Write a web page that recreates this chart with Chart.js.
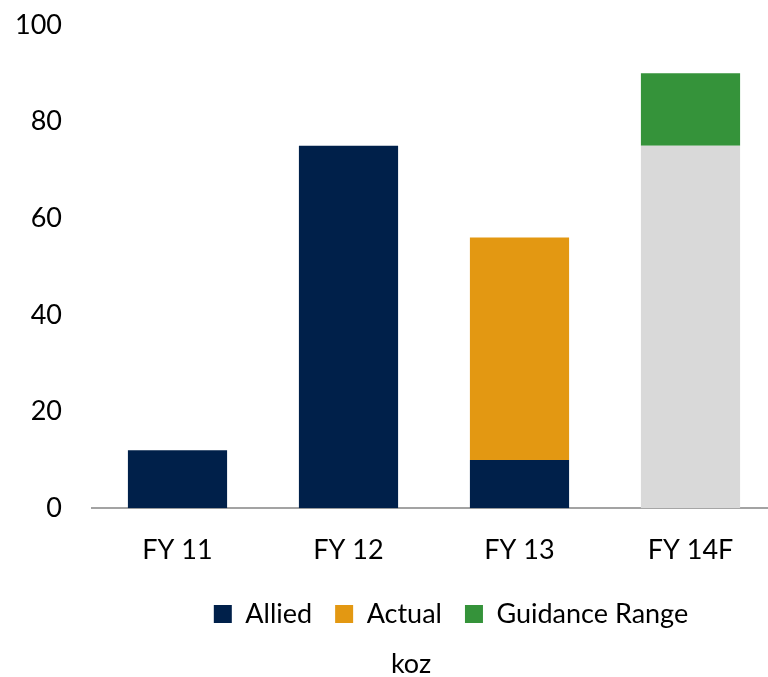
<!DOCTYPE html>
<html>
<head>
<meta charset="utf-8">
<script src="https://cdn.jsdelivr.net/npm/chart.js@4/dist/chart.umd.min.js"></script>
<style>
  html, body { margin: 0; padding: 0; background: #fff; }
  #wrap { width: 768px; height: 677px; }
</style>
</head>
<body>
<div id="wrap"><canvas id="chart" width="768" height="677"></canvas></div>
<script>
// data (koz)
const categories = ["FY 11", "FY 12", "FY 13", "FY 14F"];
const allied = [12, 75, 10, null];
const actual = [null, null, 46, null];
const forecastBase = [null, null, null, 75];
const guidanceRange = [null, null, null, 15];
const yTicks = [0, 20, 40, 60, 80, 100];

const font = { family: "Lato", size: 27 };

// the plot runs a little past the right edge, and legend / unit title
// sit right of centre in the original
const tweakLayout = {
  id: "tweakLayout",
  afterLayout(chart) {
    const x = chart.scales.x;
    x.right += 8;
    x.width += 8;
    x.configure();
    chart.chartArea.right += 8;
    chart.chartArea.width += 8;
    if (chart.legend) {
      chart.legend.left += 60;
      chart.legend.right += 60;
      chart.legend.top -= 15;
      chart.legend.bottom -= 15;
    }
    if (chart.titleBlock) {
      chart.titleBlock.left += 20;
      chart.titleBlock.right += 20;
      chart.titleBlock.top += 11;
      chart.titleBlock.bottom += 11;
    }
  },
};

new Chart(document.getElementById("chart"), {
  type: "bar",
  data: {
    labels: categories,
    datasets: [
      { label: "Allied", data: allied, backgroundColor: "#00204A" },
      { label: "Actual", data: actual, backgroundColor: "#E39812" },
      { label: "base", data: forecastBase, backgroundColor: "#D9D9D9" },
      { label: "Guidance Range", data: guidanceRange, backgroundColor: "#35933A" },
    ],
  },
  plugins: [tweakLayout],
  options: {
    responsive: false,
    animation: false,
    layout: { padding: { left: 14, right: 0, top: 25, bottom: 8 } },
    datasets: {
      bar: { categoryPercentage: 1, barPercentage: 0.58, borderWidth: 0 },
    },
    scales: {
      x: {
        stacked: true,
        grid: { display: false, drawTicks: false },
        border: { display: true, color: "#A3A3A3", width: 2 },
        ticks: { color: "#000", font: font, padding: 26 },
      },
      y: {
        stacked: true,
        min: 0,
        max: 100,
        afterBuildTicks: (axis) => {
          axis.ticks = yTicks.map((v) => ({ value: v }));
        },
        afterFit: (axis) => {
          axis.width = 78;
          axis.paddingTop = 16;
          axis.paddingBottom = 16;
        },
        grid: { display: false, drawTicks: false },
        border: { display: false },
        ticks: { color: "#000", font: font, padding: 30 },
      },
    },
    plugins: {
      legend: {
        position: "bottom",
        labels: {
          color: "#000",
          font: font,
          boxWidth: 18,
          boxHeight: 18,
          padding: 23,
          filter: (item) => item.text !== "base",
        },
      },
      title: {
        display: true,
        position: "bottom",
        text: "koz",
        color: "#000",
        font: { family: "Lato", size: 27, weight: "normal" },
        padding: { top: -16, bottom: 0 },
      },
      tooltip: { enabled: false },
    },
  },
});
</script>
</body>
</html>
